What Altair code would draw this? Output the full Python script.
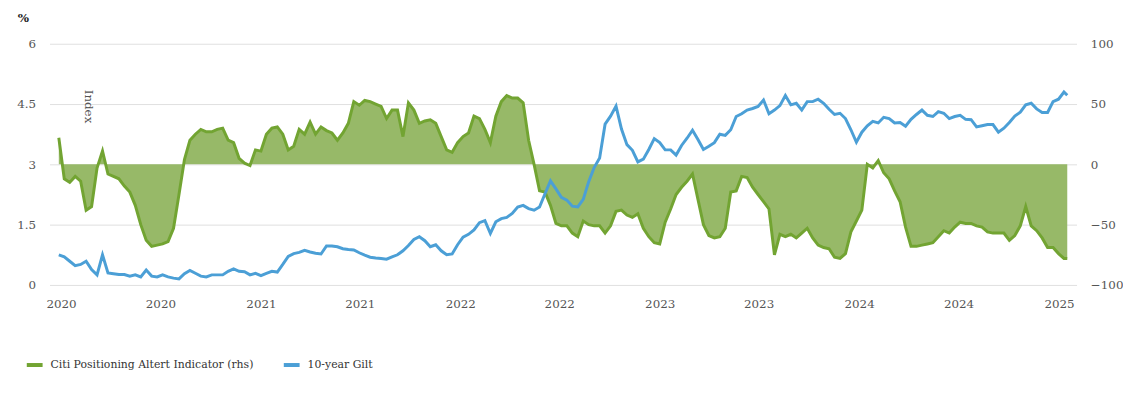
import altair as alt
import pandas as pd

start_date = "2019-12-28"
last_date = "2025-01-16"

cpai = [22, -12, -15, -10, -14, -38, -35, -3, 11, -8,
        -10, -12, -18, -23, -34, -50, -63, -68, -67, -66,
        -64, -53, -25, 4, 20, 25, 29, 27, 27, 29,
        30, 20, 18, 5, 1, -1, 12, 11, 25, 30,
        31, 25, 12, 15, 29, 25, 35, 25, 31, 28,
        26, 20, 26, 34, 52, 49, 53, 52, 50, 48,
        38, 45, 45, 23, 51, 45, 34, 36, 37, 34,
        23, 12, 10, 18, 23, 26, 40, 38, 29, 18,
        40, 52, 57, 55, 55, 51, 20, 0, -22, -23,
        -34, -49, -51, -51, -57, -60, -47, -50, -51, -51,
        -57, -51, -39, -38, -42, -44, -41, -53, -60, -65,
        -66, -48, -37, -25, -19, -14, -8, -29, -50, -59,
        -61, -60, -53, -23, -22, -10, -11, -19, -25, -31,
        -37, -75, -58, -60, -58, -61, -57, -53, -61, -67,
        -69, -70, -77, -78, -74, -56, -47, -38, 0, -3,
        3, -7, -12, -22, -31, -52, -68, -68, -67, -66,
        -65, -60, -55, -57, -52, -48, -49, -49, -51, -52,
        -56, -57, -57, -57, -63, -59, -51, -35, -51, -55,
        -61, -69, -69, -74, -78, -78]

gilt = [0.75, 0.70, 0.59, 0.48, 0.51, 0.59, 0.38, 0.25, 0.75, 0.30,
        0.28, 0.26, 0.26, 0.22, 0.25, 0.20, 0.37, 0.22, 0.20, 0.25,
        0.20, 0.17, 0.15, 0.28, 0.36, 0.29, 0.22, 0.20, 0.25, 0.25,
        0.25, 0.34, 0.40, 0.34, 0.33, 0.25, 0.29, 0.23, 0.29, 0.34,
        0.32, 0.51, 0.71, 0.78, 0.81, 0.86, 0.82, 0.79, 0.77, 0.97,
        0.97, 0.95, 0.90, 0.88, 0.87, 0.80, 0.74, 0.69, 0.67, 0.66,
        0.64, 0.70, 0.75, 0.85, 0.98, 1.13, 1.20, 1.10, 0.95, 1.00,
        0.85, 0.75, 0.77, 1.00, 1.19, 1.26, 1.37, 1.55, 1.60, 1.28,
        1.57, 1.65, 1.68, 1.78, 1.94, 1.98, 1.90, 1.86, 1.94, 2.27,
        2.59, 2.39, 2.18, 2.11, 1.96, 1.94, 2.13, 2.57, 2.92, 3.16,
        4.00, 4.20, 4.45, 3.88, 3.49, 3.35, 3.06, 3.13, 3.37, 3.64,
        3.54, 3.36, 3.36, 3.23, 3.47, 3.65, 3.85, 3.62, 3.37, 3.45,
        3.54, 3.75, 3.72, 3.86, 4.19, 4.26, 4.35, 4.39, 4.44, 4.60,
        4.26, 4.35, 4.46, 4.71, 4.48, 4.52, 4.35, 4.56, 4.56, 4.62,
        4.52, 4.37, 4.24, 4.27, 4.14, 3.86, 3.55, 3.80, 3.96, 4.07,
        4.03, 4.17, 4.14, 4.03, 4.04, 3.95, 4.12, 4.24, 4.35, 4.22,
        4.19, 4.31, 4.27, 4.14, 4.19, 4.22, 4.12, 4.11, 3.93, 3.96,
        3.99, 3.99, 3.80, 3.90, 4.04, 4.20, 4.30, 4.48, 4.52, 4.38,
        4.29, 4.29, 4.56, 4.62, 4.80, 4.72]

name_cpai = "Citi Positioning Altert Indicator (rhs)"
name_gilt = "10-year Gilt"

left_ticks = [0, 1.5, 3, 4.5, 6]
right_ticks = [-100, -50, 0, 50, 100]

dates = list(pd.date_range(start_date, periods=len(cpai) - 1, freq="10D")) + [pd.Timestamp(last_date)]
df = pd.DataFrame({"date": dates, "cpai": cpai, "gilt": gilt})

GREEN_LINE = "#72a432"
GREEN_FILL = "#97b968"
BLUE = "#4b9fd6"
FONT = "DejaVu Serif"
TICK_COLOR = "#555555"

x_enc = alt.X(
    "date:T",
    title=None,
    scale=alt.Scale(domain=[alt.DateTime(year=2019, month=12, date=11),
                            alt.DateTime(year=2025, month=2, date=2)]),
    axis=alt.Axis(format="%Y", tickCount={"interval": "month", "step": 6},
                  domain=False, ticks=False, grid=False, labelFlush=False,
                  labelPadding=14, labelFont=FONT, labelFontSize=12,
                  labelColor=TICK_COLOR),
)

right_axis = alt.Axis(orient="right", values=right_ticks, grid=False, domain=False,
                      ticks=False, labelPadding=14, labelFont=FONT, labelFontSize=12,
                      labelColor=TICK_COLOR, title="Index", titleAngle=90,
                      titleX=-1000, titleY=63, titleAlign="center", titleBaseline="middle",
                      titleFont=FONT, titleFontSize=12, titleFontWeight="normal",
                      titleColor="#555555")

y_right = alt.Y("cpai:Q", scale=alt.Scale(domain=[-100, 100], nice=False), axis=right_axis)

color_scale = alt.Scale(domain=[name_cpai, name_gilt], range=[GREEN_LINE, BLUE])
legend = alt.Legend(orient="none", legendX=-25, legendY=315, direction="horizontal",
                    title=None, symbolType="stroke", symbolStrokeWidth=4, symbolSize=256,
                    labelFont=FONT, labelFontSize=11, labelColor="#333333", labelLimit=400,
                    columnPadding=22, labelOffset=6, padding=0)

area = alt.Chart(df).mark_area(color=GREEN_FILL, opacity=1).encode(
    x=x_enc, y=y_right, y2=alt.datum(0)
)
gline = alt.Chart(df).transform_calculate(series=f"'{name_cpai}'").mark_line(strokeWidth=3).encode(
    x=x_enc, y=y_right,
    color=alt.Color("series:N", scale=color_scale, legend=legend),
)
green = alt.layer(area, gline)

bline = alt.Chart(df).transform_calculate(series=f"'{name_gilt}'").mark_line(strokeWidth=3).encode(
    x=x_enc,
    y=alt.Y("gilt:Q", scale=alt.Scale(domain=[0, 6], nice=False),
            axis=alt.Axis(orient="left", values=left_ticks, format=".1~f", grid=True,
                          gridColor="#e0e0e0", domain=False, ticks=False, labelPadding=14,
                          labelFont=FONT, labelFontSize=12, labelColor=TICK_COLOR, title="%",
                          titleAngle=0, titleX=-27, titleY=-22, titleAlign="center",
                          titleBaseline="alphabetic", titleFont=FONT, titleFontSize=12,
                          titleFontWeight="bold", titleColor="#222222")),
    color=alt.Color("series:N", scale=color_scale, legend=legend),
)

chart = alt.layer(green, bline).resolve_scale(y="independent").properties(
    width=1039, height=244,
    padding={"left": 8, "top": 2, "right": 0, "bottom": 5},
    background="white",
).configure_view(stroke=None)

chart.save("out.html", embed_options={"renderer": "svg", "actions": False})
